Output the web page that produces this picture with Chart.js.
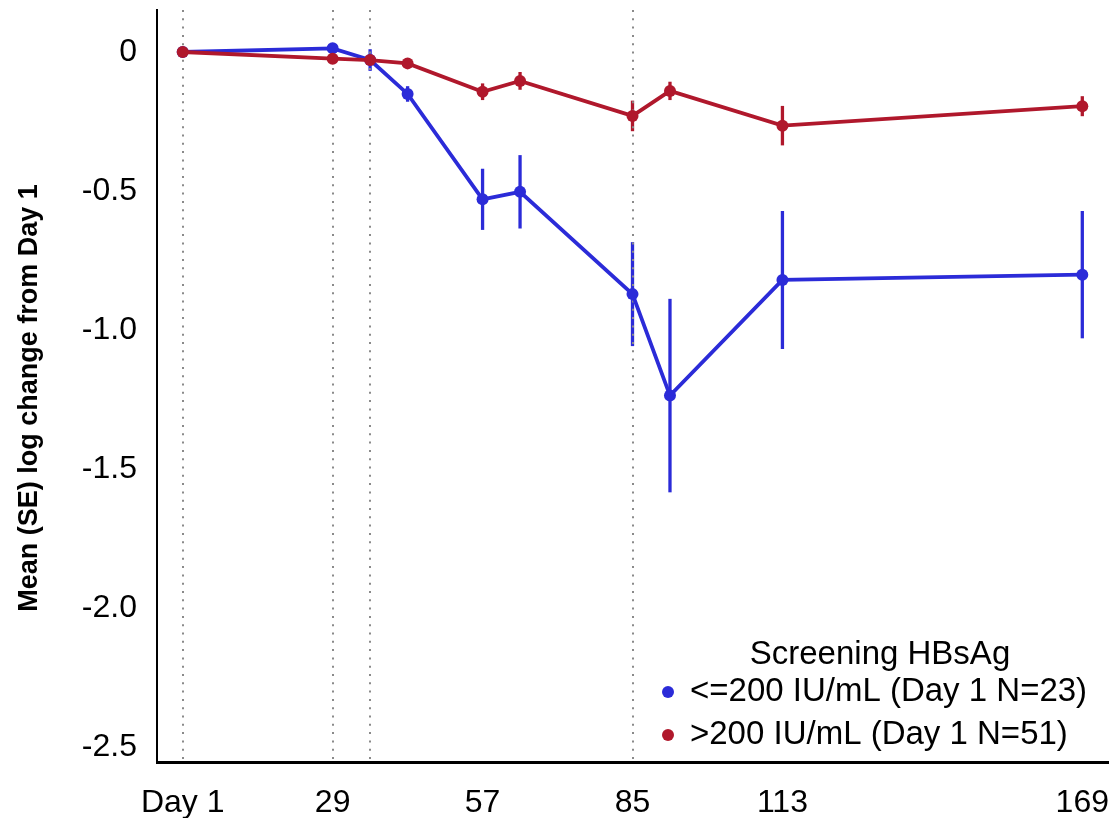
<!DOCTYPE html>
<html>
<head>
<meta charset="utf-8">
<title>HBsAg log change from Day 1</title>
<script src="https://cdn.jsdelivr.net/npm/chart.js@4"></script>
<style>
    html, body { margin: 0; padding: 0; background: #fff; }
    #wrap { width: 1116px; height: 818px; position: relative; }
</style>
</head>
<body>
<div id="wrap"><canvas id="hbsChart"></canvas></div>
<script>
// Study days and mean (SE) log change per screening group
const days = [1, 29, 36, 43, 57, 64, 85, 92, 113, 169];
const lowMean = [0, 0.013, -0.029, -0.151, -0.530, -0.503, -0.871, -1.236, -0.820, -0.801];
const lowSE = [0, 0.006, 0.039, 0.028, 0.110, 0.132, 0.187, 0.348, 0.248, 0.229];
const highMean = [0, -0.024, -0.029, -0.041, -0.143, -0.104, -0.230, -0.140, -0.265, -0.195];
const highSE = [0, 0.006, 0.008, 0.010, 0.030, 0.032, 0.055, 0.033, 0.071, 0.036];

const tickDays = [1, 29, 57, 85, 113, 169];
const tickLabels = ['Day 1', '29', '57', '85', '113', '169'];
const yTicks = [0, -0.5, -1, -1.5, -2, -2.5];
const refDays = [1, 29, 36, 85];

const groupLabels = ['<=200 IU/mL (Day 1 N=23)', '>200 IU/mL (Day 1 N=51)'];
const legendTitle = 'Screening HBsAg';
const yTitle = 'Mean (SE) log change from Day 1';

const BLUE = '#2b2bd8';
const RED = '#b0182c';
const FONT = '"Liberation Sans", Arial, sans-serif';

function toPoints(ys) {
    return days.map(function (d, i) { return { x: d, y: ys[i] }; });
}

// Vertical SE bars, then dotted reference days, under the lines
const underlayPlugin = {
    id: 'underlay',
    beforeDatasetsDraw: function (chart) {
        const ctx = chart.ctx;
        const xs = chart.scales.x;
        const ys = chart.scales.y;
        const area = chart.chartArea;
        ctx.save();
        ctx.lineWidth = 3.3;
        [[lowMean, lowSE, BLUE], [highMean, highSE, RED]].forEach(function (g) {
            ctx.strokeStyle = g[2];
            days.forEach(function (d, i) {
                if (!g[1][i]) return;
                const px = xs.getPixelForValue(d);
                ctx.beginPath();
                ctx.moveTo(px, ys.getPixelForValue(g[0][i] + g[1][i]));
                ctx.lineTo(px, ys.getPixelForValue(g[0][i] - g[1][i]));
                ctx.stroke();
            });
        });
        ctx.strokeStyle = '#8a8a8a';
        ctx.lineWidth = 2;
        ctx.setLineDash([2, 6.3]);
        refDays.forEach(function (d) {
            const px = Math.round(xs.getPixelForValue(d));
            ctx.beginPath();
            ctx.moveTo(px, area.top);
            ctx.lineTo(px, area.bottom);
            ctx.stroke();
        });
        ctx.restore();
    }
};

// Y-axis title and the legend box inside the plot, lower right
const textPlugin = {
    id: 'chartText',
    afterDraw: function (chart) {
        const ctx = chart.ctx;
        ctx.save();
        ctx.fillStyle = '#000';
        ctx.textBaseline = 'middle';
        ctx.textAlign = 'center';

        ctx.save();
        ctx.translate(30, 398);
        ctx.rotate(-Math.PI / 2);
        ctx.font = 'bold 27px ' + FONT;
        ctx.fillText(yTitle, 0, 0);
        ctx.restore();

        ctx.font = '33px ' + FONT;
        ctx.fillText(legendTitle, 880, 655);
        ctx.textAlign = 'left';
        [BLUE, RED].forEach(function (c, i) {
            const y = 692 + i * 43;
            ctx.fillStyle = c;
            ctx.beginPath();
            ctx.arc(668, y, 6, 0, Math.PI * 2);
            ctx.fill();
            ctx.fillStyle = '#000';
            ctx.fillText(groupLabels[i], 690, y);
        });
        ctx.restore();
    }
};

const ctx = document.getElementById('hbsChart').getContext('2d');
new Chart(ctx, {
    type: 'line',
    data: {
        datasets: [
            {
                label: groupLabels[0],
                data: toPoints(lowMean),
                borderColor: BLUE,
                backgroundColor: BLUE,
                pointBackgroundColor: BLUE,
                order: 2
            },
            {
                label: groupLabels[1],
                data: toPoints(highMean),
                borderColor: RED,
                backgroundColor: RED,
                pointBackgroundColor: RED,
                order: 1
            }
        ]
    },
    options: {
        responsive: true,
        maintainAspectRatio: false,
        animation: false,
        events: [],
        layout: {
            padding: { top: 10, right: 8, left: 0, bottom: 0 }
        },
        elements: {
            line: { borderWidth: 3.8, tension: 0, fill: false },
            point: { radius: 6, borderWidth: 0, hoverRadius: 6 }
        },
        scales: {
            x: {
                type: 'linear',
                min: -3.8,
                max: 173.8,
                afterBuildTicks: function (scale) {
                    scale.ticks = tickDays.map(function (v) { return { value: v }; });
                },
                afterFit: function (scale) {
                    scale.height = 56;
                    scale.paddingLeft = 0;
                    scale.paddingRight = 0;
                },
                grid: { display: false, drawTicks: false },
                border: { display: true, color: '#000', width: 3 },
                ticks: {
                    autoSkip: false,
                    maxRotation: 0,
                    padding: 22,
                    color: '#000',
                    font: { family: FONT, size: 32 },
                    callback: function (v) {
                        const k = tickDays.indexOf(v);
                        return k >= 0 ? tickLabels[k] : '';
                    }
                }
            },
            y: {
                type: 'linear',
                min: -2.554,
                max: 0.151,
                afterBuildTicks: function (scale) {
                    scale.ticks = yTicks.map(function (v) { return { value: v }; });
                },
                afterFit: function (scale) {
                    scale.width = 157;
                    scale.paddingTop = 0;
                    scale.paddingBottom = 0;
                },
                grid: { display: false, drawTicks: false },
                border: { display: true, color: '#000', width: 2 },
                ticks: {
                    autoSkip: false,
                    padding: 20,
                    color: '#000',
                    font: { family: FONT, size: 32 },
                    callback: function (v) {
                        return v === 0 ? '0' : v.toFixed(1);
                    }
                }
            }
        },
        plugins: {
            legend: { display: false },
            tooltip: { enabled: false },
            title: { display: false }
        }
    },
    plugins: [underlayPlugin, textPlugin]
});
</script>
</body>
</html>
